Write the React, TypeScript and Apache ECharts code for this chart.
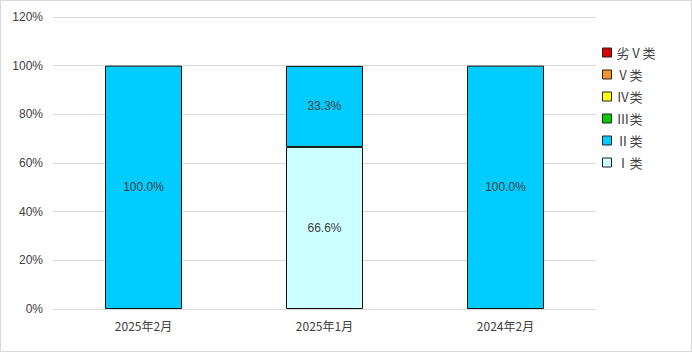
import React, { useEffect, useRef } from "react";
import * as echarts from "echarts";

const categories = ["2025年2月", "2025年1月", "2024年2月"];
const seriesNames = ["Ⅰ类", "Ⅱ类", "Ⅲ类", "Ⅳ类", "Ⅴ类", "劣Ⅴ类"];
const legendOrder = ["劣Ⅴ类", "Ⅴ类", "Ⅳ类", "Ⅲ类", "Ⅱ类", "Ⅰ类"];
const valuesI = [0, 66.6, 0];
const valuesII = [100, 33.3, 100];
const valuesIII = [0, 0, 0];
const valuesIV = [0, 0, 0];
const valuesV = [0, 0, 0];
const valuesWorseV = [0, 0, 0];
const seriesColors = ["#ccffff", "#00ccff", "#00cc00", "#ffff00", "#f39325", "#e00000"];
const yTicks = [0, 20, 40, 60, 80, 100, 120];

export default function App() {
  const ref = useRef<HTMLDivElement>(null);
  useEffect(() => {
    if (!ref.current) return;
    const chart = echarts.init(ref.current, undefined, { renderer: "svg" });
    const all = [valuesI, valuesII, valuesIII, valuesIV, valuesV, valuesWorseV];
    const series = all.map((vals, i) => ({
      name: seriesNames[i],
      type: "bar",
      stack: "total",
      barWidth: 77,
      data: vals.map((v) => (v === 0 ? "-" : v)),
      itemStyle: { color: seriesColors[i], borderColor: "#111", borderWidth: 1 },
      label: {
        show: true,
        position: "inside",
        color: "#404040",
        fontSize: 12,
        fontFamily: "Liberation Sans, Arial, sans-serif",
        formatter: (p: any) => Number(p.value).toFixed(1) + "%",
      },
    }));
    chart.setOption({
      animation: false,
      grid: { left: 52, right: 95, top: 16, bottom: 42 },
      legend: {
        orient: "vertical",
        left: 596,
        top: 40,
        itemWidth: 9,
        itemHeight: 9,
        itemGap: 9,
        data: legendOrder.map((n) => ({
          name: n,
          icon: "rect",
          itemStyle: { borderColor: "#222", borderWidth: 1 },
        })),
        textStyle: {
          color: "#404040",
          fontSize: 13,
          fontFamily: "Noto Sans CJK SC, sans-serif",
        },
      },
      xAxis: {
        type: "category",
        data: categories,
        axisLine: { lineStyle: { color: "#d9d9d9", width: 1 } },
        axisTick: { show: false },
        axisLabel: {
          color: "#404040",
          fontSize: 12,
          margin: 10,
          fontFamily: "Noto Sans CJK SC, sans-serif",
        },
      },
      yAxis: {
        type: "value",
        min: yTicks[0],
        max: yTicks[yTicks.length - 1],
        interval: 20,
        axisLine: { show: false },
        axisTick: { show: false },
        splitLine: { lineStyle: { color: "#d9d9d9", width: 1 } },
        axisLabel: {
          color: "#404040",
          fontSize: 12,
          margin: 10,
          fontFamily: "Liberation Sans, Arial, sans-serif",
          formatter: (v: number) => v + "%",
        },
      },
      series,
    });
    return () => chart.dispose();
  }, []);
  return (
    <div
      style={{
        position: "fixed",
        left: 0,
        top: 0,
        width: 692,
        height: 352,
        border: "1px solid #d9d9d9",
        boxSizing: "border-box",
        background: "#fff",
      }}
    >
      <div ref={ref} style={{ width: 690, height: 350 }} />
    </div>
  );
}
